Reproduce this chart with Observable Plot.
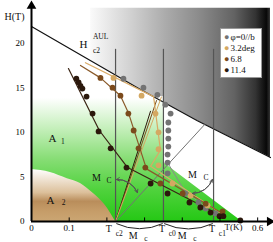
<!DOCTYPE html>
<html><head><meta charset="utf-8">
<script src="https://cdn.jsdelivr.net/npm/d3@7"></script>
<script src="https://cdn.jsdelivr.net/npm/@observablehq/plot@0.6"></script>
<style>
body{margin:0;background:#fff;}
#wrap{position:relative;width:273px;height:242px;overflow:hidden;font-family:"Liberation Serif",serif;}
#legend{position:absolute;left:220px;top:28px;width:42px;height:50px;background:#fff;border:1px solid #999;box-sizing:border-box;font-size:9px;line-height:11px;padding:3px 0 0 3px;color:#111;white-space:nowrap;}
#legend span{font-size:9px;margin-right:1px;}
</style></head><body><div id="wrap"></div>
<script>
// ---- data (T in K, H in tesla) ----
const seriesNames = ["φ=0//b", "3.2deg", "6.8", "11.4"];
const colors = {gray:"#737373", tan:"#d4a862", brown:"#7b4a1c", dark:"#2b180c"};

const grayDotT = [0.244,0.297,0.334,0.355,0.369,0.363,0.363,0.363,0.363,0.361,0.361,0.361,0.408,0.443,0.462,0.488];
const grayDotH = [16.0,15.0,14.2,13.1,12.1,11.1,10.2,9.3,8.4,7.5,6.6,5.4,3.14,2.13,1.46,0.9];
const tanDotT = [0.2175,0.292,0.329,0.337,0.337,0.337,0.374,0.422,0.467];
const tanDotH = [16.1,14.1,12.1,10.0,8.1,6.3,4.26,2.9,1.8];
const brownDotT = [0.183,0.215,0.236,0.257,0.271,0.284,0.302,0.342,0.401,0.462,0.507];
const brownDotH = [16.1,15.0,14.1,12.1,10.2,8.2,6.05,4.26,3.14,2.0,1.12];
const darkDotT = [0.119,0.125,0.130,0.135,0.146,0.162,0.178,0.210,0.252,0.316,0.361,0.419,0.448,0.475,0.499,0.509,0.554];
const darkDotH = [16.0,15.6,15.2,14.9,14.0,12.1,10.1,8.2,6.05,4.26,3.14,2.13,1.57,1.0,0.6,0.6,0.11];

const darkLineT = [0.098,0.180,0.255,0.507], darkLineH = [17.15,10.2,6.05,0.56];
const brownLineT = [0.130,0.183,0.236,0.257,0.305,0.507], brownLineH = [17.5,16.1,14.1,12.2,5.9,0.9];
const tanLineT = [0.143,0.324,0.342,0.316,0.507], tanLineH = [17.8,14.0,8.0,6.2,0.78];
const grayLineT = [0.361,0.408,0.490], grayLineH = [6.6,3.3,0.8];

const Tc2 = 0.223, Tc0 = 0.350, Tc1 = 0.483, TcTop = 19.3;
const fanEndT = [0.316,0.332,0.345,0.460], fanEndH = [12.4,13.6,14.0,10.9];
const fanKeys = ["dark","brown","tan","gray"];

const hc2T = [0,0.289,0.440,0.634], hc2H = [21.86,14.8,11.3,7.17];
const boxT = [0.157,0.289,0.440,0.634], boxLo = [18.0,14.8,11.3,7.17], boxHi = 23.9;
const greenT = [0,0.35,0.35,0.558], greenH = [14,14,6.6,0];
const a2T = [0,0.05,0.095,0.13,0.165,0.196,0.223], a2H = [5.83,5.5,4.8,4.26,3.1,1.8,0];

const yTicks = [0,5,10,15,20];
const xTicks = [0.1,0.2,0.3,0.4,0.5,0.6];
const xTickLabels = [{T:0,s:"0"},{T:0.1,s:"0.1"},{T:0.6,s:"0.6"}];

// annotations: text, anchor position (T,H), font size
const bigLabels = [
  {s:"H(T)",T:-0.045,H:22.9,a:"middle",f:10},
  {s:"H",T:0.138,H:19.84,a:"start",f:11},
  {s:"A",T:0.0557,H:9.36,a:"start",f:11},
  {s:"A",T:0.050,H:2.41,a:"start",f:11},
  {s:"M",T:0.172,H:4.93,a:"start",f:10},
  {s:"M",T:0.427,H:5.27,a:"start",f:10},
  {s:"T",T:0.205,H:-0.8,a:"start",f:10},
  {s:"M",T:0.270,H:-1.65,a:"start",f:10},
  {s:"T",T:0.346,H:-0.8,a:"start",f:10},
  {s:"M",T:0.400,H:-1.65,a:"start",f:10},
  {s:"T",T:0.479,H:-0.8,a:"start",f:10},
  {s:"T(K)",T:0.536,H:-0.67,a:"start",f:9}
];
const smallLabels = [
  {s:"AUL",T:0.163,H:20.75},
  {s:"c2",T:0.163,H:19.2},
  {s:"1",T:0.078,H:8.97},
  {s:"2",T:0.080,H:2.1},
  {s:"C",T:0.199,H:4.6},
  {s:"C",T:0.456,H:4.93},
  {s:"c2",T:0.2235,H:-1.35},
  {s:"c",T:0.299,H:-1.9},
  {s:"c0",T:0.364,H:-1.35},
  {s:"c",T:0.429,H:-1.9},
  {s:"c1",T:0.497,H:-1.35}
];
const mcArrows = [
  {T1:0.2255,H1:4.71,T2:0.281,H2:3.25},
  {T1:0.480,H1:4.71,T2:0.427,H2:3.14}
];
const bottomArcs = [
  {T1:0.226,H1:-0.25,T2:0.347,H2:-0.25},
  {T1:0.353,H1:-0.25,T2:0.480,H2:-0.25}
];

// ---- build tables ----
const zip = (T,H) => T.map((t,i)=>({T:t,H:H[i]}));
const dots = [
  ...zip(grayDotT,grayDotH).map(d=>({...d,k:"gray"})),
  ...zip(tanDotT,tanDotH).map(d=>({...d,k:"tan"})),
  ...zip(brownDotT,brownDotH).map(d=>({...d,k:"brown"})),
  ...zip(darkDotT,darkDotH).map(d=>({...d,k:"dark"}))
];
const fans = fanEndT.map((t,i)=>({T2:t,H2:fanEndH[i],k:fanKeys[i]}));
const box = boxT.map((t,i)=>({T:t,lo:boxLo[i],hi:boxHi}));
const serif = '"Liberation Serif", serif';

const svg = Plot.plot({
  width: 273, height: 242, marginLeft: 31, marginRight: 0, marginTop: 2, marginBottom: 21,
  x: {domain:[0,0.642], axis:null},
  y: {domain:[0,24.55], axis:null},
  style: {fontFamily: serif, fontSize:"9px", background:"transparent", overflow:"visible"},
  marks: [
    Plot.areaY(box, {x:"T", y1:"lo", y2:"hi", fill:"url(#gGray)"}),
    Plot.areaY(zip(greenT,greenH), {x:"T", y1:0, y2:"H", fill:"url(#gGreen)"}),
    Plot.areaY(zip(a2T,a2H), {x:"T", y1:0, y2:"H", fill:"url(#gBrown)", curve:"monotone-x"}),
    Plot.line(zip(hc2T,hc2H), {x:"T", y:"H", stroke:"#111", strokeWidth:1.2}),
    Plot.ruleX([Tc2,Tc0,Tc1], {y1:0, y2:TcTop, stroke:"#555", strokeWidth:1.2}),
    Plot.link(fans, {x1:Tc2, y1:0, x2:"T2", y2:"H2", stroke:d=>colors[d.k], strokeWidth:1}),
    Plot.line(zip(grayLineT,grayLineH), {x:"T", y:"H", stroke:"#8a8a8a", strokeWidth:1}),
    Plot.line(zip(tanLineT,tanLineH), {x:"T", y:"H", stroke:"#d9aa66", strokeWidth:1.2}),
    Plot.line(zip(brownLineT,brownLineH), {x:"T", y:"H", stroke:"#8a5a2a", strokeWidth:1.2}),
    Plot.line(zip(darkLineT,darkLineH), {x:"T", y:"H", stroke:"#3a2414", strokeWidth:1.2}),
    Plot.dot(dots, {x:"T", y:"H", r:2.9, fill:d=>colors[d.k], stroke:"none"}),
    Plot.arrow(mcArrows, {x1:"T1", y1:"H1", x2:"T2", y2:"H2", bend:35, stroke:"#555", strokeWidth:1, headLength:5}),
    Plot.arrow(mcArrows, {x1:"T2", y1:"H2", x2:"T1", y2:"H1", bend:-35, stroke:"#555", strokeWidth:1, headLength:5}),
    Plot.arrow(bottomArcs, {x1:"T1", y1:"H1", x2:"T2", y2:"H2", bend:-25, stroke:"#222", strokeWidth:1, headLength:0}),
    // axes
    Plot.ruleY([0], {x1:0, x2:0.635, stroke:"#000", strokeWidth:2}),
    Plot.ruleX([0], {y1:0, y2:24.1, stroke:"#000", strokeWidth:2}),
    Plot.dot([{T:0,H:24.15}], {x:"T", y:"H", symbol:"triangle", r:3.6, fill:"#000"}),
    Plot.dot([{T:0.632,H:0}], {x:"T", y:"H", symbol:"triangle", r:3.6, fill:"#000", rotate:90}),
    Plot.ruleX(xTicks, {y1:0, y2:0.4, stroke:"#000", strokeWidth:1}),
    Plot.link(yTicks, {x1:0, x2:0, y1:d=>d, y2:d=>d, dx:-2, stroke:"#000", strokeWidth:1}),
    Plot.text(yTicks, {x:0, y:d=>d, text:d=>String(d), textAnchor:"end", dx:-7, fontSize:9, fontFamily:serif}),
    Plot.text(xTickLabels, {x:"T", y:0, text:"s", dy:7, fontSize:9, fontFamily:serif}),
    Plot.text(bigLabels, {x:"T", y:"H", text:"s", textAnchor:d=>d.a, fontSize:d=>d.f, fontFamily:serif, fill:"#111"}),
    Plot.text(smallLabels, {x:"T", y:"H", text:"s", textAnchor:"start", fontSize:7.5, fontFamily:serif, fill:"#111"})
  ]
});

// gradients
const xs = svg.scale("x"), ys = svg.scale("y");
const defs = d3.select(svg).insert("defs", ":first-child");
function lin(id, x1, y1, x2, y2, stops) {
  const g = defs.append("linearGradient").attr("id", id).attr("gradientUnits", "userSpaceOnUse")
    .attr("x1", x1).attr("y1", y1).attr("x2", x2).attr("y2", y2);
  stops.forEach(([o, c]) => g.append("stop").attr("offset", o).attr("stop-color", c));
}
lin("gGray", xs.apply(0.157), 0, xs.apply(0.634), 0,
  [[0,"#fafafa"],[0.22,"#d2d2d2"],[0.42,"#ababab"],[0.6,"#8c8c8c"],[0.8,"#636363"],[0.92,"#333"],[0.98,"#080808"],[1,"#333"]]);
lin("gGreen", 0, ys.apply(13.8), 0, ys.apply(0),
  [[0,"#ffffff"],[0.25,"#c4efba"],[0.5,"#86dd74"],[0.75,"#4fd23c"],[1,"#25c815"]]);
lin("gBrown", 0, ys.apply(5.83), 0, ys.apply(0),
  [[0,"#ffffff"],[0.45,"#dcc09b"],[0.62,"#b98d5b"],[0.8,"#c59c68"],[1,"#cba673"]]);

const wrap = document.getElementById("wrap");
wrap.appendChild(svg);
const leg = document.createElement("div");
leg.id = "legend";
const legColors = [colors.gray, colors.tan, colors.brown, colors.dark];
leg.innerHTML = seriesNames.map((n,i)=>`<div><span style="color:${legColors[i]}">●</span>${n}</div>`).join("");
wrap.appendChild(leg);
</script></body></html>
